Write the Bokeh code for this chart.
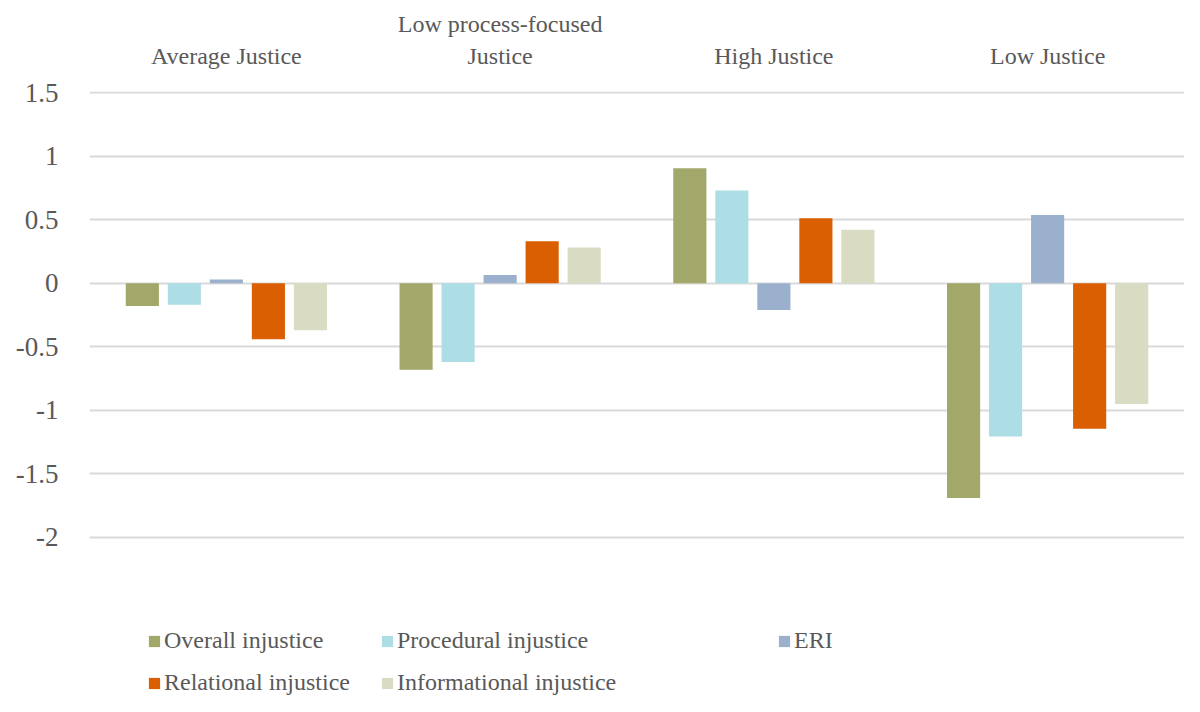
from bokeh.plotting import figure
from bokeh.models import (FactorRange, Range1d, FixedTicker, CustomJSTickFormatter,
                          Legend, LegendItem, ColumnDataSource)
from bokeh.transform import dodge
from bokeh.embed import file_html
from bokeh.resources import INLINE

categories = ["Average Justice", "Low process-focused\nJustice", "High Justice", "Low Justice"]
overall = [-0.18, -0.68, 0.905, -1.69]
procedural = [-0.17, -0.62, 0.73, -1.205]
eri = [0.03, 0.065, -0.21, 0.537]
relational = [-0.44, 0.33, 0.51, -1.145]
informational = [-0.37, 0.28, 0.42, -0.95]
series_names = ["Overall injustice", "Procedural injustice", "ERI",
                "Relational injustice", "Informational injustice"]
y_ticks = [-2, -1.5, -1, -0.5, 0, 0.5, 1, 1.5]

colors = ["#A2A76A", "#ADDEE5", "#9AB0CD", "#D95F00", "#D9DCC2"]
offsets = [-0.307, -0.1535, 0.0, 0.1535, 0.307]
FONT = "Liberation Serif"
TXT = "#595959"

src = ColumnDataSource(dict(cat=categories, overall=overall, procedural=procedural,
                            eri=eri, relational=relational, informational=informational))
keys = ["overall", "procedural", "eri", "relational", "informational"]

# frame extends below the value axis to host the legend area (Excel-like layout)
p = figure(width=1184, height=696, x_range=FactorRange(*categories),
           y_range=Range1d(-3.2506, 1.5079), x_axis_location="above",
           output_backend="svg", toolbar_location=None,
           min_border_left=89, min_border_right=0, min_border_top=91, min_border_bottom=0)
p.outline_line_color = None

renderers = []
for k, c, off in zip(keys, colors, offsets):
    r = p.vbar(x=dodge("cat", off, range=p.x_range), top=k, bottom=0, width=0.121,
               source=src, fill_color=c, line_color=None)
    renderers.append(r)

xa = p.xaxis[0]
xa.axis_line_color = None
xa.major_tick_line_color = None
xa.minor_tick_line_color = None
xa.major_label_standoff = 17
xa.major_label_text_font = FONT
xa.major_label_text_font_size = "24px"
xa.major_label_text_color = TXT

ya = p.yaxis[0]
ya.ticker = FixedTicker(ticks=y_ticks)
ya.formatter = CustomJSTickFormatter(code="return tick.toString();")
ya.axis_line_color = None
ya.major_tick_line_color = None
ya.minor_tick_line_color = None
ya.major_label_standoff = 25
ya.major_label_text_font = FONT
ya.major_label_text_font_size = "27px"
ya.major_label_text_color = TXT

p.xgrid.grid_line_color = None
p.ygrid.ticker = FixedTicker(ticks=y_ticks)
p.ygrid.grid_line_color = "#D9D9D9"
p.ygrid.grid_line_width = 2

positions = [(58, 42), (291, 42), (688, 42), (58, 0), (291, 0)]
for name, r, loc in zip(series_names, renderers, positions):
    lg = Legend(items=[LegendItem(label=name, renderers=[r])], location=loc,
                orientation="horizontal", padding=0, margin=0, spacing=0,
                border_line_color=None, background_fill_alpha=0,
                glyph_width=14, glyph_height=14, label_standoff=3,
                label_text_font=FONT, label_text_font_size="24px",
                label_text_color=TXT)
    p.add_layout(lg)

open("out.html", "w").write(file_html(p, INLINE))
